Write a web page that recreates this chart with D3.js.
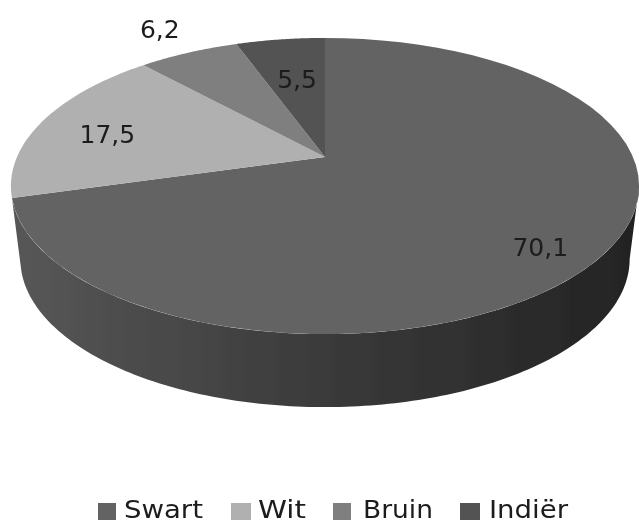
<!DOCTYPE html>
<html>
<head>
<meta charset="utf-8">
<script src="https://cdnjs.cloudflare.com/ajax/libs/d3/7.8.5/d3.min.js"></script>
<style>
  html, body { margin: 0; padding: 0; background: #fff; }
  svg { display: block; }
  text { font-family: "DejaVu Sans", sans-serif; fill: #1c1c1c; }
</style>
</head>
<body>
<svg id="svg"></svg>
<script>
const categories = ["Swart", "Wit", "Bruin", "Indiër"];
const values = [70.1, 17.5, 6.2, 5.5];
const valueLabels = ["70,1", "17,5", "6,2", "5,5"];
const colors = ["#636363", "#b0b0b0", "#7f7f7f", "#525252"];

let layout = { "width": 639, "height": 524, "apexX": 325, "apexY": 157, "depth": 73 };

// nudges from the slice centroid to where the label sits
const labelNudge = [[13, 19], [-4, 5], [-59, -47], [7, 14]];
// swatch x, swatch width, text x, text width
const legendPlace = [[98, 18, 124, 79], [231, 20, 258, 48], [333, 18, 363, 70], [460, 20, 489, 79]];

// tilted disc: a point on the unit circle seen in perspective
const tilt = 0.196;
const xScale = d3.scaleLinear().domain([-1, 1]).range([layout.apexX - 308, layout.apexX + 308]);
const yScale = d3.scaleLinear().domain([-1, 1]).range([layout.apexY + 142.4, layout.apexY - 142.4]);

function project(angle, r = 1) {
  let u = Math.sin(angle) * r;
  let v = Math.cos(angle) * r;
  let w = 1 + tilt * v;
  return [xScale(u / w), yScale(v / w)];
}

function projectBase(angle) {
  let p = project(angle);
  return [layout.apexX + (p[0] - layout.apexX) * 0.97, p[1] + layout.depth];
}

const pie = d3.pie().value(d => d).sort(null);
const arcs = pie(values);
const line = d3.line();

let svgElement = d3.select("#svg")
  .attr("width", layout.width)
  .attr("height", layout.height);

let defs = svgElement.append("defs");
let grad = defs.append("linearGradient")
  .attr("id", "side")
  .attr("gradientUnits", "userSpaceOnUse")
  .attr("x1", 12).attr("x2", 639).attr("y1", 0).attr("y2", 0);
grad.append("stop").attr("offset", 0).attr("stop-color", "#575757");
grad.append("stop").attr("offset", 0.5).attr("stop-color", "#3a3a3a");
grad.append("stop").attr("offset", 1).attr("stop-color", "#232323");

defs.append("filter").attr("id", "soft")
  .append("feGaussianBlur").attr("stdDeviation", 0.6);

let chart = svgElement.append("g").attr("filter", "url(#soft)");

// wall of the front slice: quads from the right-hand extreme of the rim, one path so no seams show
const steps = 160;
const front = arcs[0];
const wallStart = Math.acos(-tilt);
const stepAngle = (front.endAngle - wallStart) / steps;
chart.append("path")
  .attr("d", d3.range(steps).map(i => {
    let a0 = wallStart + i * stepAngle;
    let a1 = a0 + stepAngle;
    return line([project(a0), project(a1), projectBase(a1), projectBase(a0)]) + "Z";
  }).join(""))
  .attr("fill", "url(#side)");

// top face
chart.append("g").selectAll("path")
  .data(arcs)
  .join("path")
  .attr("d", d => {
    let angles = d3.range(61).map(i => d.startAngle + (d.endAngle - d.startAngle) * i / 60);
    return line([project(0, 0), ...angles.map(a => project(a))]) + "Z";
  })
  .attr("fill", (d, i) => colors[i]);

chart.append("g").selectAll("text")
  .data(arcs)
  .join("text")
  .attr("x", (d, i) => project((d.startAngle + d.endAngle) / 2, 0.75)[0] + labelNudge[i][0])
  .attr("y", (d, i) => project((d.startAngle + d.endAngle) / 2, 0.75)[1] + labelNudge[i][1])
  .attr("dy", "0.36em")
  .attr("text-anchor", "middle")
  .attr("font-size", 25)
  .text((d, i) => valueLabels[i]);

let legend = chart.append("g").selectAll("g")
  .data(categories)
  .join("g");

legend.append("rect")
  .attr("x", (d, i) => legendPlace[i][0])
  .attr("y", 503)
  .attr("width", (d, i) => legendPlace[i][1])
  .attr("height", 17)
  .attr("fill", (d, i) => colors[i]);

legend.append("text")
  .attr("x", (d, i) => legendPlace[i][2])
  .attr("y", 518)
  .attr("font-size", 24)
  .attr("textLength", (d, i) => legendPlace[i][3])
  .attr("lengthAdjust", "spacingAndGlyphs")
  .text(d => d);
</script>
</body>
</html>
